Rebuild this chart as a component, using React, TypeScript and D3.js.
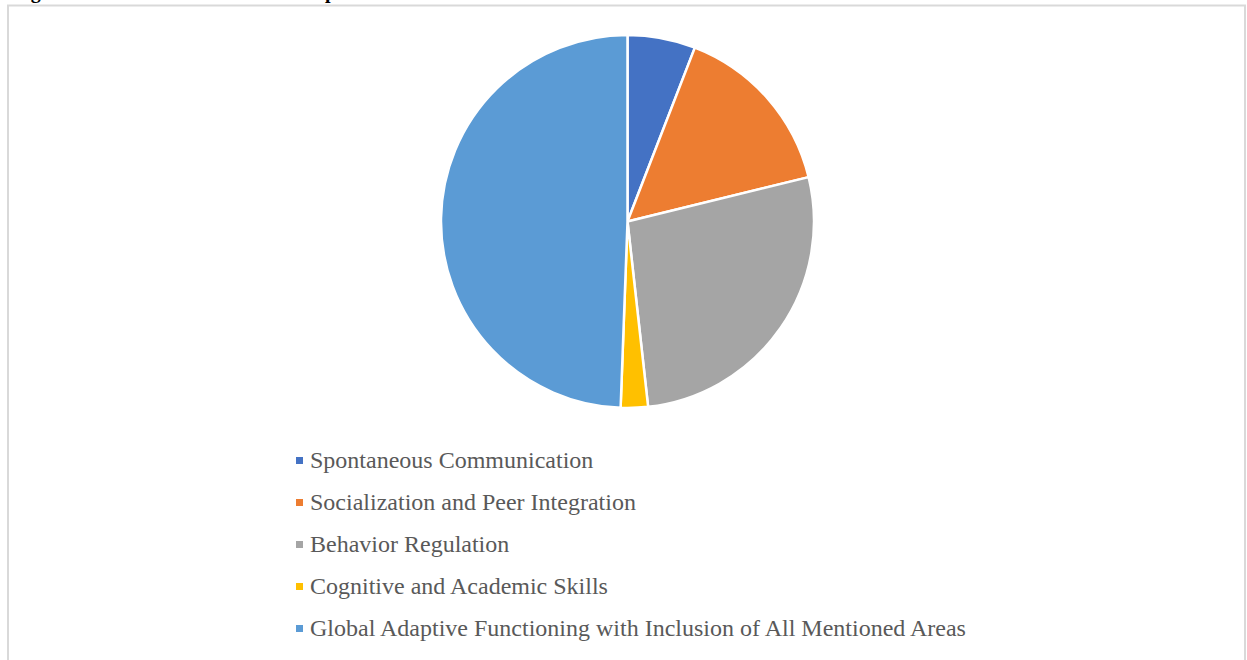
import React from "react";
import * as d3 from "d3";

const categories = [
  "Spontaneous Communication",
  "Socialization and Peer Integration",
  "Behavior Regulation",
  "Cognitive and Academic Skills",
  "Global Adaptive Functioning with Inclusion of All Mentioned Areas",
];
const values = [5, 13, 23, 2, 42];
const colors = ["#4472C4", "#ED7D31", "#A5A5A5", "#FFC000", "#5B9BD5"];
const caption = "Figure 1. Distribution of Areas of Improvement";

export default function App() {
  const W = 1247;
  const H = 660;
  const cx = 627.5;
  const cy = 221.5;
  const r = 186.5;

  const pie = d3.pie<number>().sort(null).value((d) => d);
  const arcs = pie(values);
  const arcGen = d3.arc<d3.PieArcDatum<number>>().innerRadius(0).outerRadius(r);

  const legendX = 296;
  const legendY0 = 460.5;
  const legendStep = 42;

  return (
    <svg
      width={W}
      height={H}
      style={{ display: "block", position: "absolute", left: 0, top: 0 }}
    >
      <rect x={0} y={0} width={W} height={H} fill="#ffffff" />
      <text
        x={13}
        y={-2}
        fontFamily="'Liberation Serif', 'Times New Roman', serif"
        fontWeight="bold"
        fontSize={20}
        fill="#000"
      >
        {caption}
      </text>
      <path
        d={`M8,${H + 5} V5.5 H1245 V${H + 5}`}
        fill="none"
        stroke="#d9d9d9"
        strokeWidth={2}
      />
      <g transform={`translate(${cx},${cy})`}>
        {arcs.map((a, i) => (
          <path
            key={i}
            d={arcGen(a) || ""}
            fill={colors[i]}
            stroke="#ffffff"
            strokeWidth={2.5}
            strokeLinejoin="round"
          />
        ))}
      </g>
      <g>
        {categories.map((c, i) => (
          <g key={c} transform={`translate(${legendX},${legendY0 + i * legendStep})`}>
            <rect x={0} y={-3.5} width={7} height={7} fill={colors[i]} />
            <text
              x={14}
              y={7}
              fontFamily="'Liberation Serif', 'Times New Roman', serif"
              fontSize={24}
              fill="#595959"
            >
              {c}
            </text>
          </g>
        ))}
      </g>
    </svg>
  );
}
